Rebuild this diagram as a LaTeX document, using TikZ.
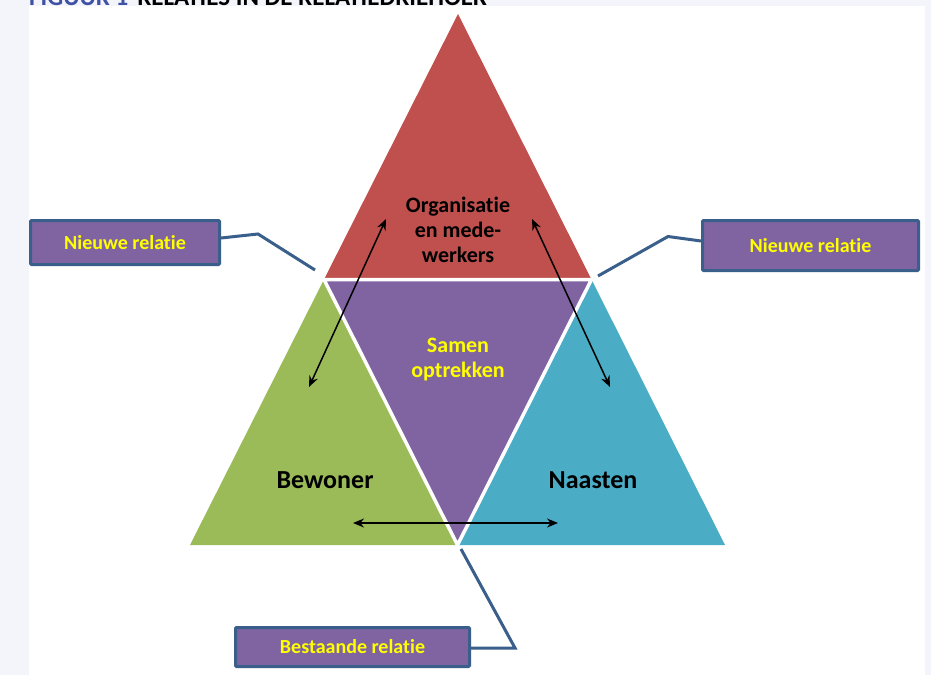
\documentclass[tikz,border=0pt]{standalone}
\usepackage{fontspec}
\setmainfont{Carlito}[Ligatures=NoCommon]
\usetikzlibrary{arrows.meta}
\definecolor{bgpage}{HTML}{F4F5FB}
\definecolor{tred}{HTML}{C0504D}
\definecolor{tgreen}{HTML}{9BBB59}
\definecolor{tblue}{HTML}{4BACC6}
\definecolor{tpurple}{HTML}{8064A2}
\definecolor{lineblue}{HTML}{3A5F8B}
\definecolor{titleblue}{HTML}{3F51A5}
\definecolor{txtyellow}{HTML}{FFFF00}
\newcommand\tisep{t\kern0pt i}
\tikzset{
  calloutbox/.style={draw=lineblue, line width=3pt, fill=tpurple, rounded corners=1pt,
    text=txtyellow, font=\bfseries\fontsize{20}{24}\selectfont, inner sep=0pt, anchor=center},
  leader/.style={draw=lineblue, line width=3pt},
  relarrow/.style={draw=black, line width=1.5pt, {Stealth[length=11pt,width=9pt]}-{Stealth[length=11pt,width=9pt]}},
  bigtext/.style={font=\bfseries\fontsize{26}{30}\selectfont, text=black},
  midtext/.style={font=\bfseries\fontsize{22}{25}\selectfont, align=center}
}
\begin{document}
\begin{tikzpicture}[x=1pt,y=-1pt]
\useasboundingbox (0,0) rectangle (931,675);
\fill[bgpage] (0,0) rectangle (931,675);
\fill[white] (29,6) rectangle (925,675);
% cut-off title
\begin{scope}
\clip (0,0) rectangle (931,6);
\node[anchor=base west, inner sep=0pt, font=\bfseries\fontsize{25}{30}\selectfont] (title) at (29,5)
  {\textcolor{titleblue}{FIGUUR 1}\hspace{9pt}\textcolor{black}{RELATIES IN DE RELATIEDRIEHOEK}};
\end{scope}
% triangles
\coordinate (apex) at (458,14);
\coordinate (bl) at (190,545);
\coordinate (br) at (725,545);
\coordinate (ml) at (324,279.5);
\coordinate (mr) at (591.5,279.5);
\coordinate (mb) at (457.5,545);
\fill[tred] (apex) -- (ml) -- (mr) -- cycle;
\fill[tgreen] (ml) -- (bl) -- (mb) -- cycle;
\fill[tblue] (mr) -- (mb) -- (br) -- cycle;
\fill[tpurple] (ml) -- (mr) -- (mb) -- cycle;
\draw[white, line width=3.5pt, line join=miter] (ml) -- (mr) -- (mb) -- cycle;
% texts
\node[midtext, text=black] (org) at (458,230) {Organisa\tisep e\\en mede-\\werkers};
\node[midtext, text=txtyellow] (samen) at (458,360) {Samen\\optrekken};
\node[bigtext] (bewoner) at (325,480) {Bewoner};
\node[bigtext] (naasten) at (593,480) {Naasten};
% relation arrows
\coordinate (a1t) at (386,219);
\coordinate (a1b) at (309,387);
\coordinate (a2t) at (532,219);
\coordinate (a2b) at (610,387);
\coordinate (a3l) at (353,523);
\coordinate (a3r) at (558,523);
\draw[relarrow] (a1t) -- (a1b);
\draw[relarrow] (a2t) -- (a2b);
\draw[relarrow] (a3l) -- (a3r);
% callouts
\node[calloutbox, minimum width=189pt, minimum height=44pt] (nl) at (125,242.5) {Nieuwe rela\tisep e};
\node[calloutbox, minimum width=216pt, minimum height=50pt] (nr) at (810.5,245.5) {Nieuwe rela\tisep e};
\node[calloutbox, minimum width=234pt, minimum height=39pt] (br1) at (352.5,647) {Bestaande rela\tisep e};
\coordinate (l1) at (258,234);
\coordinate (l2) at (315,270);
\coordinate (r1) at (668,236.5);
\coordinate (r2) at (598,276);
\coordinate (b1) at (515,648);
\coordinate (b2) at (461,549);
\draw[leader] (nl.east |- 0,238) -- (l1) -- (l2);
\draw[leader] (nr.west |- 0,241) -- (r1) -- (r2);
\draw[leader] (br1.east |- 0,648) -- (b1) -- (b2);
\end{tikzpicture}
\end{document}
